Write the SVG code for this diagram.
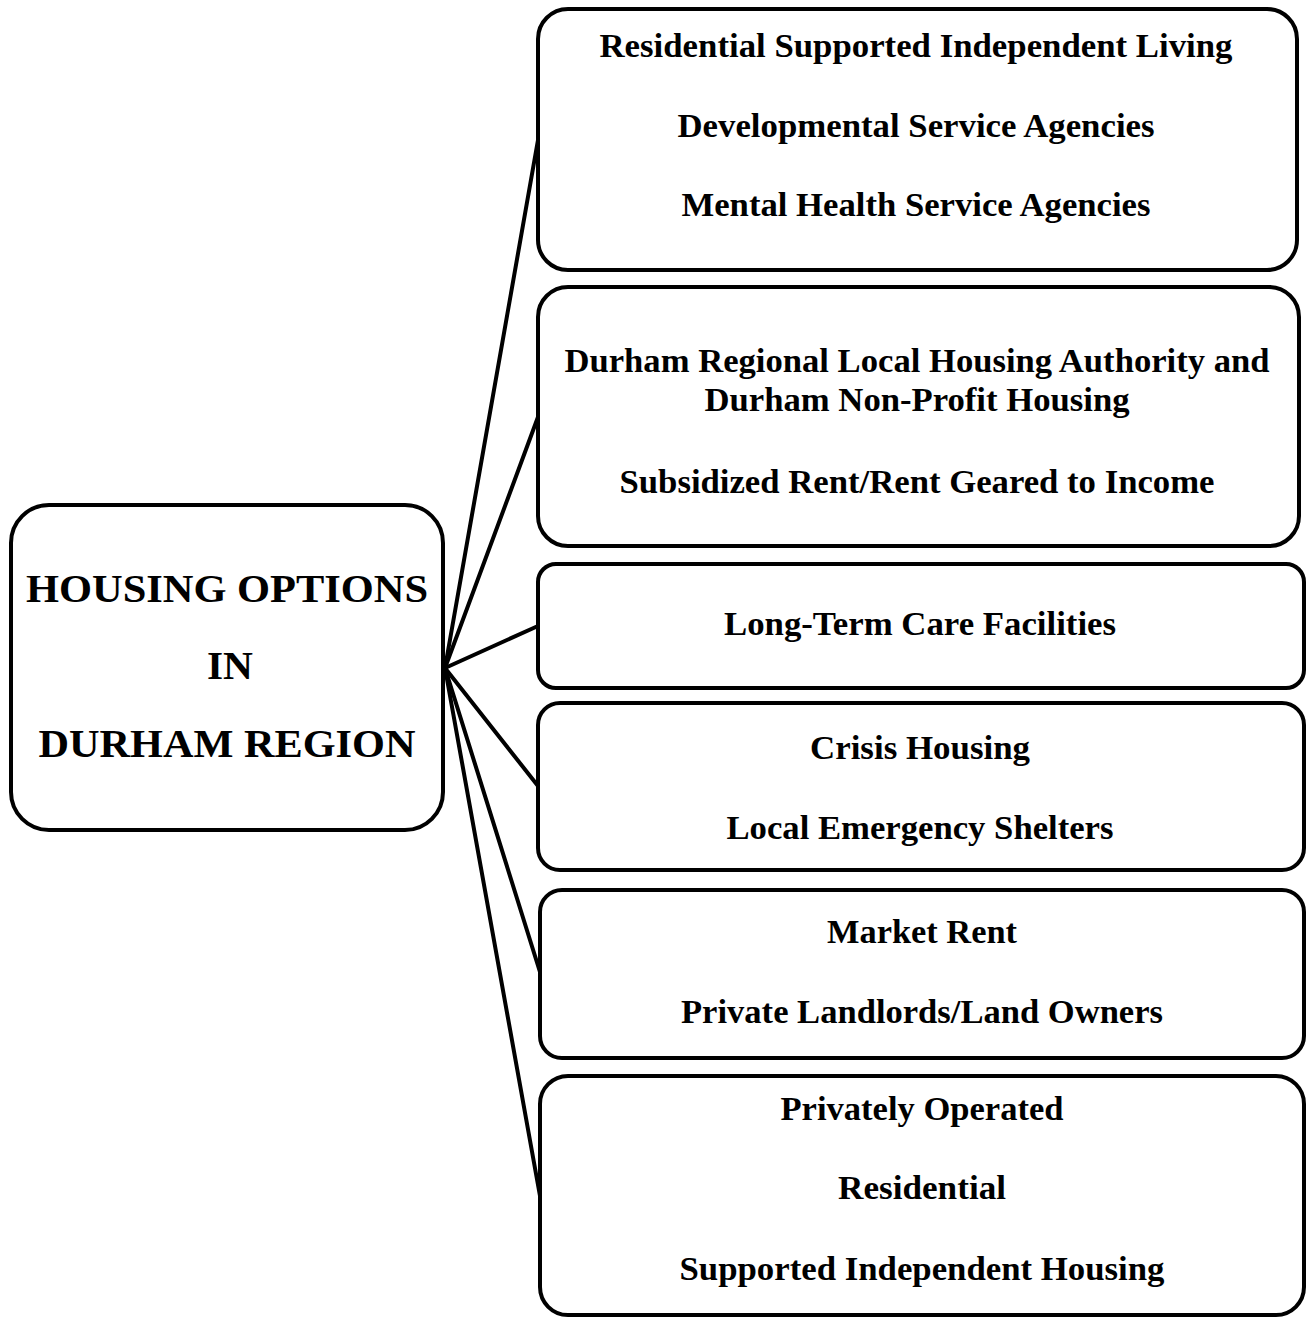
<svg xmlns="http://www.w3.org/2000/svg" width="1311" height="1317" viewBox="0 0 1311 1317">
<style>
.box{fill:#fff;stroke:#000;stroke-width:4}
.t{font-family:"Liberation Serif","Times New Roman",serif;font-weight:bold;font-size:33px;fill:#000;text-anchor:middle}
.big{font-size:41px}
.conn line{stroke:#000;stroke-width:4;stroke-linecap:round}
</style>
<rect width="1311" height="1317" fill="#fff"/>
<g id="connectors" class="conn">
<line x1="445" y1="668" x2="538" y2="140"/>
<line x1="445" y1="668" x2="538" y2="417"/>
<line x1="445" y1="668" x2="538" y2="626"/>
<line x1="445" y1="668" x2="538" y2="786"/>
<line x1="445" y1="668" x2="540" y2="972"/>
<line x1="445" y1="668" x2="540" y2="1196"/>
</g>
<g id="main">
<rect class="box" x="11" y="505" width="432" height="325" rx="38"/>
<text class="t big" x="227" y="602" textLength="402" lengthAdjust="spacingAndGlyphs">HOUSING OPTIONS</text>
<text class="t big" x="230" y="679" textLength="46" lengthAdjust="spacingAndGlyphs">IN</text>
<text class="t big" x="227" y="757" textLength="377" lengthAdjust="spacingAndGlyphs">DURHAM REGION</text>
</g>
<g id="n1">
<rect class="box" x="538" y="9" width="759" height="261" rx="30"/>
<text class="t" x="916" y="57" textLength="633" lengthAdjust="spacingAndGlyphs">Residential Supported Independent Living</text>
<text class="t" x="916" y="137" textLength="477" lengthAdjust="spacingAndGlyphs">Developmental Service Agencies</text>
<text class="t" x="916" y="216" textLength="469" lengthAdjust="spacingAndGlyphs">Mental Health Service Agencies</text>
</g>
<g id="n2">
<rect class="box" x="538" y="287" width="761" height="259" rx="30"/>
<text class="t" x="917" y="372" textLength="705" lengthAdjust="spacingAndGlyphs">Durham Regional Local Housing Authority and</text>
<text class="t" x="917" y="411" textLength="425" lengthAdjust="spacingAndGlyphs">Durham Non-Profit Housing</text>
<text class="t" x="917" y="493" textLength="595" lengthAdjust="spacingAndGlyphs">Subsidized Rent/Rent Geared to Income</text>
</g>
<g id="n3">
<rect class="box" x="538" y="564" width="766" height="124" rx="18"/>
<text class="t" x="920" y="635" textLength="392" lengthAdjust="spacingAndGlyphs">Long-Term Care Facilities</text>
</g>
<g id="n4">
<rect class="box" x="538" y="703" width="766" height="167" rx="22"/>
<text class="t" x="920" y="759" textLength="220" lengthAdjust="spacingAndGlyphs">Crisis Housing</text>
<text class="t" x="920" y="839" textLength="387" lengthAdjust="spacingAndGlyphs">Local Emergency Shelters</text>
</g>
<g id="n5">
<rect class="box" x="540" y="890" width="764" height="168" rx="22"/>
<text class="t" x="922" y="943" textLength="190" lengthAdjust="spacingAndGlyphs">Market Rent</text>
<text class="t" x="922" y="1023" textLength="482" lengthAdjust="spacingAndGlyphs">Private Landlords/Land Owners</text>
</g>
<g id="n6">
<rect class="box" x="540" y="1076" width="764" height="239" rx="28"/>
<text class="t" x="922" y="1120" textLength="283" lengthAdjust="spacingAndGlyphs">Privately Operated</text>
<text class="t" x="922" y="1199" textLength="168" lengthAdjust="spacingAndGlyphs">Residential</text>
<text class="t" x="922" y="1280" textLength="485" lengthAdjust="spacingAndGlyphs">Supported Independent Housing</text>
</g>
</svg>
